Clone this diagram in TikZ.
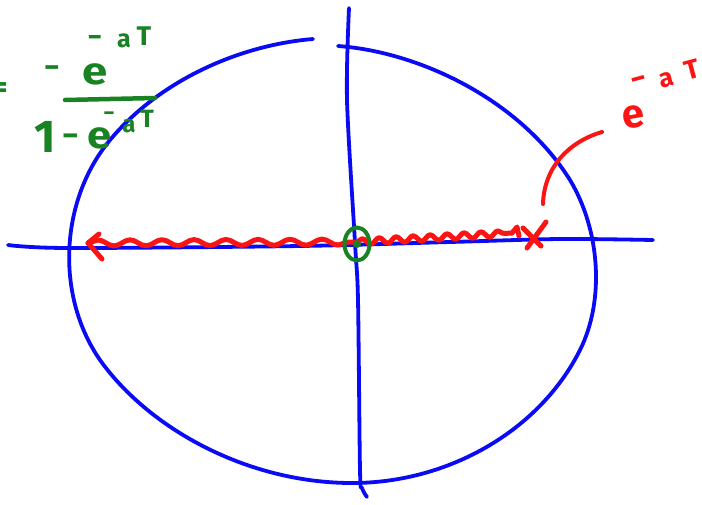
\documentclass[tikz,border=0pt]{standalone}
\usepackage{fontspec}
\setmainfont{Fira Sans}
\usetikzlibrary{decorations.pathmorphing}
\definecolor{penblue}{RGB}{10,10,245}
\definecolor{penred}{RGB}{250,20,20}
\definecolor{pengreen}{RGB}{25,130,35}
\tikzset{
  bluepen/.style={draw=penblue,line width=3.8pt,line cap=round,line join=round},
  redpen/.style={draw=penred,line width=5pt,line cap=round,line join=round},
  greenpen/.style={draw=pengreen,line width=4pt,line cap=round},
  glyph/.style={inner sep=0pt,outer sep=0pt,font=\fontsize{#1}{#1}\selectfont\bfseries},
  gtxt/.style={glyph=#1,text=pengreen},
  rtxt/.style={glyph=#1,text=penred}
}
\begin{document}
\begin{tikzpicture}[x=1pt,y=-1pt]
\useasboundingbox (0,0) rectangle (702,504);
% unit circle (hand drawn, small gap at top)
\coordinate (cstart) at (338,46);
\draw[bluepen] (cstart) .. controls (420,52) and (520,100) .. (570,180)
  .. controls (600,230) and (605,300) .. (580,350)
  .. controls (540,430) and (450,482) .. (355,483)
  .. controls (250,484) and (150,430) .. (100,360)
  .. controls (55,295) and (60,200) .. (110,140)
  .. controls (160,80) and (240,45) .. (313,39);
% real axis
\draw[bluepen] plot[smooth] coordinates {(8,245) (68,248) (300,246) (450,242) (560,239) (653,240)};
% imaginary axis
\draw[bluepen] plot[smooth] coordinates {(349,8) (347,100) (355,243) (358,300) (360,470) (362,488) (367,497)};
% red wavy line with arrow
\coordinate (tip) at (88,243);
\coordinate (org) at (357,242);
\coordinate (wend) at (512,233);
\draw[redpen,decorate,decoration={snake,amplitude=3pt,segment length=32pt,post length=4pt}] (tip) -- (org);
\draw[redpen,decorate,decoration={snake,amplitude=3pt,segment length=17pt,post length=2pt}] (org) -- (wend);
\draw[redpen] (wend) -- (517,227) -- (519,236);
\draw[redpen] (99,234) -- (tip) -- (102,259);
% pole X
\coordinate (xa) at (523,228);
\coordinate (xb) at (541,246);
\coordinate (xc) at (546,222);
\coordinate (xd) at (527,248);
\draw[redpen] (xa) -- (xb);
\draw[redpen] (xc) -- (xd);
% zero at origin
\draw[greenpen] (357,244) ellipse [x radius=12.5pt, y radius=16.5pt];
\fill[pengreen] (357,244) circle [radius=4pt];
% red label leader
\coordinate (lead0) at (543,204);
\coordinate (lead1) at (602,132);
\draw[redpen,line width=4pt] (lead0) .. controls (544,168) and (568,142) .. (lead1);
% red label e^{-aT}
\node[rtxt=40,rotate=10] (re) at (634,117) {e};
\node[rtxt=30,rotate=15] (rm) at (639,83) {−};
\node[rtxt=26,rotate=15] (ra) at (667,80) {a};
\node[rtxt=27,rotate=15] (rT) at (692,70) {T};
% green label  = - e^{-aT} / (1 - e^{-aT})
\node[gtxt=30] (geq) at (0,90) {=};
\node[gtxt=30] (gm) at (52,72) {−};
\node[gtxt=38,xscale=1.2] (ge) at (95,74) {e};
\node[gtxt=28] (gm1) at (95,41) {−};
\node[gtxt=25] (ga1) at (124,41) {a};
\node[gtxt=27] (gT1) at (144,36) {T};
\coordinate (barL) at (65,100);
\coordinate (barR) at (155,98);
\draw[greenpen,line width=4.5pt] (barL) -- (barR);
\node[gtxt=46] (g1) at (45,137) {1};
\node[gtxt=32] (gm2) at (71,140) {−};
\node[gtxt=38,xscale=1.15] (ge2) at (100,138) {e};
\node[gtxt=22] (gm3) at (109,116) {−};
\node[gtxt=24] (ga2) at (129,126) {a};
\node[gtxt=25] (gT2) at (147,119) {T};
\end{tikzpicture}
\end{document}
